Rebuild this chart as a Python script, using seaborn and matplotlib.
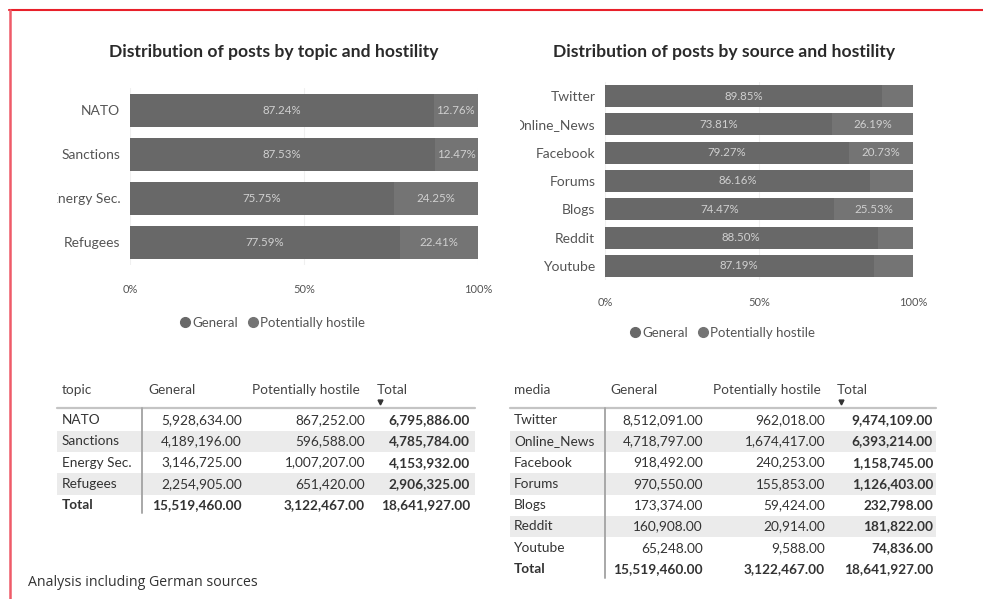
import matplotlib
matplotlib.use("Agg")
import matplotlib.pyplot as plt
import seaborn as sns
import pandas as pd
import numpy as np
from matplotlib.lines import Line2D
from matplotlib.patches import Rectangle

# ---------------- data ----------------
topics = ["NATO", "Sanctions", "Energy Sec.", "Refugees"]
topic_general = [5928634, 4189196, 3146725, 2254905]
topic_hostile = [867252, 596588, 1007207, 651420]

media = ["Twitter", "Online_News", "Facebook", "Forums", "Blogs", "Reddit", "Youtube"]
media_general = [8512091, 4718797, 918492, 970550, 173374, 160908, 65248]
media_hostile = [962018, 1674417, 240253, 155853, 59424, 20914, 9588]

series_names = ["General", "Potentially hostile"]
x_ticks = [0, 50, 100]
x_tick_labels = ["0%", "50%", "100%"]
caption = "Analysis including German sources"

# ---------------- style ----------------
sns.set_theme(style="white")
plt.rcParams['font.family'] = ['Lato', 'DejaVu Sans']

C_GEN = "#686868"
C_HOS = "#747474"
TXT = "#333333"

W, H = 983, 599
fig = plt.figure(figsize=(W / 100, H / 100), dpi=100)


def fx(px):
    return px / W


def fy(py):
    return 1 - py / H


def white_box(x0, y0, x1, y1):
    fig.add_artist(Rectangle((fx(x0), fy(y1)), (x1 - x0) / W, (y1 - y0) / H,
                             transform=fig.transFigure, color="white", lw=0,
                             zorder=5))


def bar_chart(left, top, right, bottom, cats, gen, hos, title, title_xy,
              legend_xy, bar_w, min_share, tick_pad, lab_fs):
    ax = fig.add_axes([fx(left), fy(bottom), (right - left) / W, (bottom - top) / H])
    gen = np.array(gen, dtype=float)
    hos = np.array(hos, dtype=float)
    tot = gen + hos
    df = pd.DataFrame({"cat": cats,
                       "General": gen / tot * 100,
                       "Hostile": hos / tot * 100,
                       "Full": (gen + hos) / tot * 100})
    sns.barplot(data=df, x="Full", y="cat", color=C_HOS, width=bar_w, ax=ax,
                orient="h", saturation=1, errorbar=None, zorder=2, linewidth=0)
    sns.barplot(data=df, x="General", y="cat", color=C_GEN, width=bar_w, ax=ax,
                orient="h", saturation=1, errorbar=None, zorder=2, linewidth=0)
    for i, (g, h) in enumerate(zip(df["General"], df["Hostile"])):
        ax.text(g / 2, i, f"{g:.2f}%", ha="center", va="center", color="#d0d0d0",
                fontsize=lab_fs, zorder=3)
        if h / 100 >= min_share:
            ax.text(g + h / 2, i, f"{h:.2f}%", ha="center", va="center",
                    color="#d0d0d0", fontsize=lab_fs, zorder=3)
    ax.set_xlim(0, 100)
    ax.set_xticks(x_ticks)
    ax.set_xticklabels(x_tick_labels)
    ax.set_xlabel("")
    ax.set_ylabel("")
    for s in ax.spines.values():
        s.set_visible(False)
    ax.grid(axis="x", color="#f0f0f0", lw=0.8, zorder=0)
    ax.set_axisbelow(True)
    ax.tick_params(axis="x", length=0, pad=tick_pad, labelsize=8, labelcolor="#555555")
    ax.tick_params(axis="y", length=0, pad=7, labelsize=10, labelcolor="#555555")
    fig.text(fx(title_xy[0]), fy(title_xy[1]), title, ha="center", va="center",
             fontsize=12.6, fontweight="bold", color="#2a2a2a")
    handles = [Line2D([], [], marker="o", ls="", color=C_GEN, markersize=7),
               Line2D([], [], marker="o", ls="", color=C_HOS, markersize=7)]
    fig.legend(handles, series_names, loc="center",
               bbox_to_anchor=(fx(legend_xy[0]), fy(legend_xy[1])), ncol=2,
               frameon=False, fontsize=9.5, handletextpad=0.05, columnspacing=0.6,
               labelcolor="#555555", handlelength=1.0)
    return ax


bar_chart(130, 88, 478, 264.5, topics, topic_general, topic_hostile,
          "Distribution of posts by topic and hostility", (274, 52), (272, 323),
          0.75, 0.10, 14, 8.3)
bar_chart(605, 82, 913, 280, media, media_general, media_hostile,
          "Distribution of posts by source and hostility", (724, 52), (722, 333),
          0.78, 0.15, 12, 8.3)

# the visuals crop their category labels on the left edge
white_box(12, 180, 56.5, 216)
white_box(482, 112, 520, 140)


def add_table(label_head, labels, gen, hos, x_label, head_x, rights, row0,
              step, x0, x1, vline_x, vline_bottom, arrow_x):
    gen = list(gen)
    hos = list(hos)
    tot = [g + h for g, h in zip(gen, hos)]
    header_y = 390
    heads = [label_head, series_names[0], series_names[1], "Total"]
    for hx, hd in zip(head_x, heads):
        fig.text(fx(hx), fy(header_y), hd, ha="left", va="center", fontsize=9.8,
                 color="#444444")
    fig.add_artist(Line2D([fx(arrow_x)], [fy(402)], marker="v", ls="",
                          color="#333333", markersize=3.5, transform=fig.transFigure))
    fig.add_artist(Line2D([fx(x0), fx(x1)], [fy(408), fy(408)], color="#c4c4c4",
                          lw=1.6, transform=fig.transFigure))
    fig.add_artist(Line2D([fx(vline_x), fx(vline_x)], [fy(408), fy(vline_bottom)],
                          color="#a8a8a8", lw=1.4, transform=fig.transFigure))
    all_labels = labels + ["Total"]
    all_gen = gen + [sum(gen)]
    all_hos = hos + [sum(hos)]
    all_tot = tot + [sum(tot)]
    for i, lab in enumerate(all_labels):
        y = row0 + i * step
        is_total = i == len(labels)
        if i % 2 == 1 and not is_total:
            fig.add_artist(Rectangle((fx(x0), fy(y + step / 2)), (x1 - x0) / W,
                                     step / H, transform=fig.transFigure,
                                     color="#ebebeb", zorder=0, lw=0))
        w = "bold" if is_total else "normal"
        fig.text(fx(x_label), fy(y), lab, ha="left", va="center", fontsize=9.8,
                 color=TXT, fontweight=w)
        for r, v, ww in zip(rights, [all_gen[i], all_hos[i], all_tot[i]],
                            [w, w, "bold"]):
            fig.text(fx(r), fy(y), f"{v:,.2f}", ha="right", va="center",
                     fontsize=9.8, color=TXT, fontweight=ww)


add_table("topic", topics, topic_general, topic_hostile, 62,
          [62, 148, 252, 377], [242, 365, 470], 420, 21.3, 57, 475, 142, 513, 380)
add_table("media", media, media_general, media_hostile, 514,
          [514, 610, 713, 837], [703, 825, 933], 420, 21.3, 510, 936, 605, 578, 841)

fig.text(fx(28), fy(583), caption, ha="left", va="center", fontsize=10.2,
         color="#333333", family=["Open Sans", "DejaVu Sans"])

# red frame
fig.add_artist(Line2D([fx(9), 1], [fy(10), fy(10)], color="#e8202a", lw=1.5,
                      transform=fig.transFigure, zorder=6))
fig.add_artist(Line2D([fx(9.5), fx(9.5)], [fy(10), 0], color="#ef5b68", lw=1.8,
                      transform=fig.transFigure, zorder=6))

fig.savefig("out.png", dpi=100)
